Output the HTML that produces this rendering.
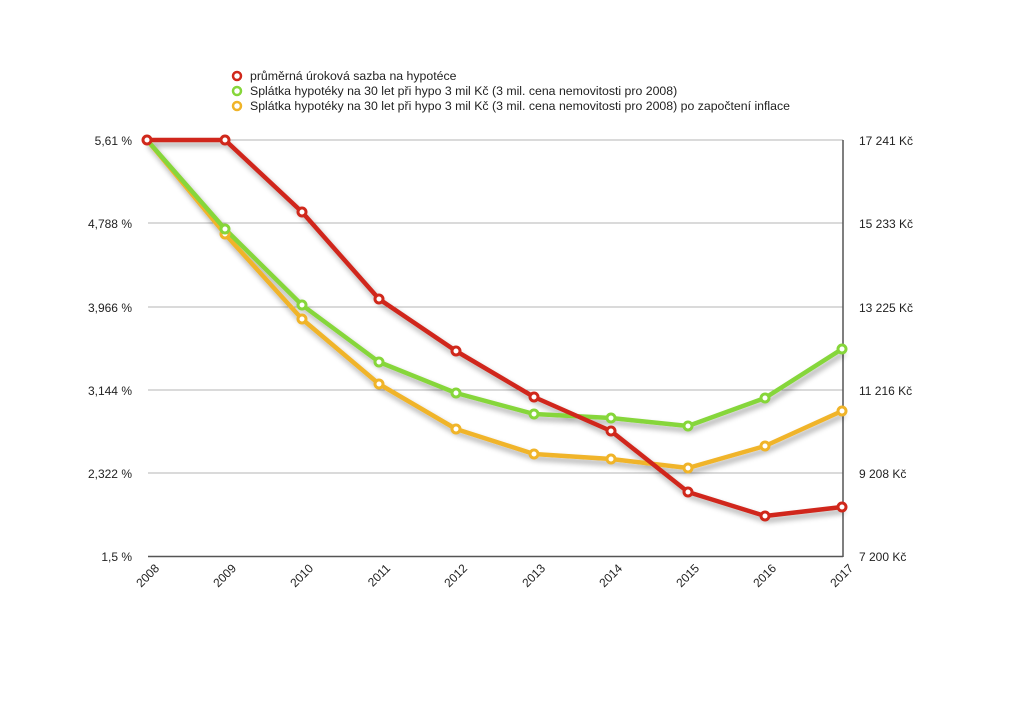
<!DOCTYPE html>
<html><head><meta charset="utf-8"><style>
html,body{margin:0;padding:0;background:#fff;}
svg{display:block;font-family:"Liberation Sans",sans-serif;}
</style></head><body>
<svg width="1024" height="724" viewBox="0 0 1024 724" xmlns="http://www.w3.org/2000/svg">
<defs>
<filter id="sh" x="-10%" y="-10%" width="120%" height="130%">
<feGaussianBlur in="SourceAlpha" stdDeviation="3"/>
<feOffset dx="2" dy="4"/>
<feComponentTransfer><feFuncA type="linear" slope="0.35"/></feComponentTransfer>
<feMerge><feMergeNode/><feMergeNode in="SourceGraphic"/></feMerge>
</filter>
</defs>
<g stroke="#b5b5b5" stroke-width="1">
<line x1="148" y1="140" x2="843" y2="140"/>
<line x1="148" y1="223" x2="843" y2="223"/>
<line x1="148" y1="307" x2="843" y2="307"/>
<line x1="148" y1="390" x2="843" y2="390"/>
<line x1="148" y1="473" x2="843" y2="473"/>
</g>
<line x1="148" y1="556.5" x2="843" y2="556.5" stroke="#555" stroke-width="1.5"/>
<line x1="843" y1="140" x2="843" y2="557" stroke="#555" stroke-width="1.5"/>
<g font-size="12" fill="#222" text-anchor="end">
<text x="132" y="145">5,61 %</text>
<text x="132" y="228">4,788 %</text>
<text x="132" y="312">3,966 %</text>
<text x="132" y="395">3,144 %</text>
<text x="132" y="478">2,322 %</text>
<text x="132" y="561">1,5 %</text>
</g>
<g font-size="12" fill="#222">
<text x="859" y="145">17 241 Kč</text>
<text x="859" y="228">15 233 Kč</text>
<text x="859" y="312">13 225 Kč</text>
<text x="859" y="395">11 216 Kč</text>
<text x="859" y="478">9 208 Kč</text>
<text x="859" y="561">7 200 Kč</text>
</g>
<g font-size="12" fill="#222" text-anchor="end">
<text transform="translate(160,569) rotate(-45)">2008</text>
<text transform="translate(237,569) rotate(-45)">2009</text>
<text transform="translate(314,569) rotate(-45)">2010</text>
<text transform="translate(391,569) rotate(-45)">2011</text>
<text transform="translate(468,569) rotate(-45)">2012</text>
<text transform="translate(546,569) rotate(-45)">2013</text>
<text transform="translate(623,569) rotate(-45)">2014</text>
<text transform="translate(700,569) rotate(-45)">2015</text>
<text transform="translate(777,569) rotate(-45)">2016</text>
<text transform="translate(854,569) rotate(-45)">2017</text>
</g>
<g fill="none" stroke-width="4.5" stroke-linejoin="round" filter="url(#sh)">
<polyline stroke="#f0b429" points="147,140 225,234 302,319 379,384 456,429 534,454 611,459 688,468 765,446 842,411"/>
<polyline stroke="#86d63a" points="147,140 225,229 302,305 379,362 456,393 534,414 611,418 688,426 765,398 842,349"/>
<polyline stroke="#d0281b" points="147,140 225,140 302,212 379,299 456,351 534,397 611,431 688,492 765,516 842,507"/>
</g>
<g fill="#fff" stroke-width="3">
<g stroke="#f0b429">
<circle cx="225" cy="234" r="4"/><circle cx="302" cy="319" r="4"/><circle cx="379" cy="384" r="4"/><circle cx="456" cy="429" r="4"/><circle cx="534" cy="454" r="4"/><circle cx="611" cy="459" r="4"/><circle cx="688" cy="468" r="4"/><circle cx="765" cy="446" r="4"/><circle cx="842" cy="411" r="4"/>
</g>
<g stroke="#86d63a">
<circle cx="225" cy="229" r="4"/><circle cx="302" cy="305" r="4"/><circle cx="379" cy="362" r="4"/><circle cx="456" cy="393" r="4"/><circle cx="534" cy="414" r="4"/><circle cx="611" cy="418" r="4"/><circle cx="688" cy="426" r="4"/><circle cx="765" cy="398" r="4"/><circle cx="842" cy="349" r="4"/>
</g>
<g stroke="#d0281b">
<circle cx="147" cy="140" r="4"/><circle cx="225" cy="140" r="4"/><circle cx="302" cy="212" r="4"/><circle cx="379" cy="299" r="4"/><circle cx="456" cy="351" r="4"/><circle cx="534" cy="397" r="4"/><circle cx="611" cy="431" r="4"/><circle cx="688" cy="492" r="4"/><circle cx="765" cy="516" r="4"/><circle cx="842" cy="507" r="4"/>
</g>
</g>
<g fill="#fff" stroke-width="2.5">
<circle cx="237" cy="76" r="4" stroke="#d0281b"/>
<circle cx="237" cy="91" r="4" stroke="#86d63a"/>
<circle cx="237" cy="106" r="4" stroke="#f0b429"/>
</g>
<g font-size="12.3" fill="#222">
<text x="250" y="80">průměrná úroková sazba na hypotéce</text>
<text x="250" y="95">Splátka hypotéky na 30 let při hypo 3 mil Kč (3 mil. cena nemovitosti pro 2008)</text>
<text x="250" y="110">Splátka hypotéky na 30 let při hypo 3 mil Kč (3 mil. cena nemovitosti pro 2008) po započtení inflace</text>
</g>
</svg>
</body></html>
